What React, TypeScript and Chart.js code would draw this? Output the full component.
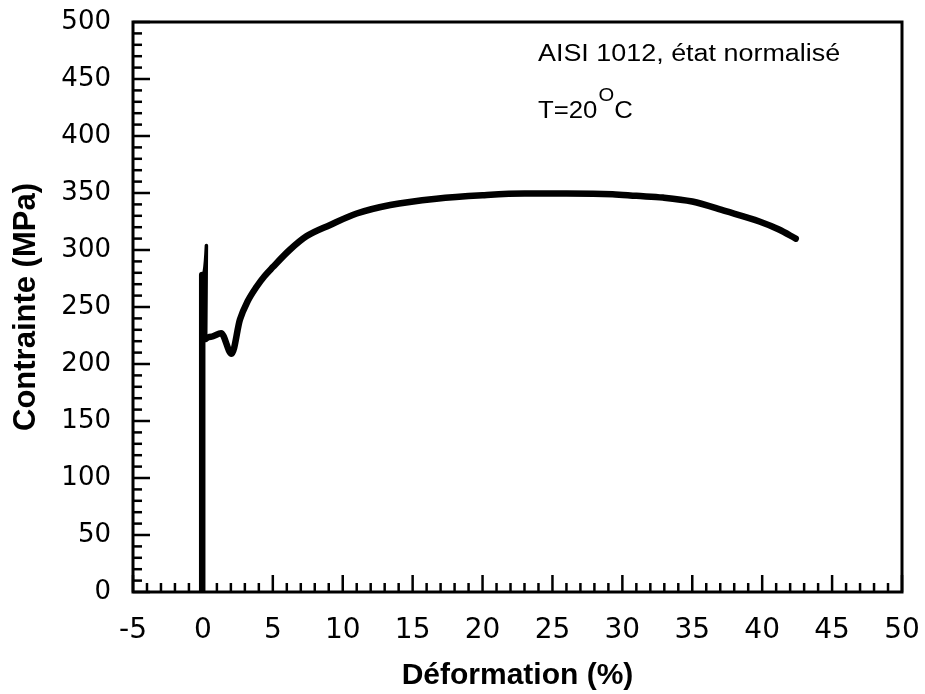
import React, { useEffect, useRef } from "react";
import { Chart, registerables } from "chart.js";

Chart.register(...registerables);

// ---- data ----
const strainPct = [-0.05, -0.05, 0.25, 0.2, 0.6, 1.3, 2.05, 2.65, 3.2, 3.85, 4.4, 5.0, 6.2, 7.4, 9.1, 11.0, 13.4, 16.7, 20.0, 23.0, 26.0, 29.3, 31.0, 32.9, 35.0, 37.4, 39.8, 41.2, 42.4];
const stressMPa = [0, 278, 304, 222, 224, 227, 209, 239, 255, 268, 277, 285, 300, 312, 322, 332, 339.5, 345, 348, 349.5, 349.5, 349, 347.5, 346, 342.5, 334, 325, 318, 310];

const xMin = -5;
const xMax = 50;
const xStep = 5;
const xMinorStep = 1;
const yMin = 0;
const yMax = 500;
const yStep = 50;
const yMinorStep = 10;

const xTitle = "Déformation (%)";
const yTitle = "Contrainte (MPa)";
const noteMaterial = "AISI 1012, état normalisé";
const noteTempPrefix = "T=20";
const noteTempDegree = "O";
const noteTempUnit = "C";

const FONT = "'Liberation Sans', Arial, Helvetica, sans-serif";
const TICK_FONT = "'DejaVu Sans', 'Liberation Sans', Arial, sans-serif";

const frameAndTicks = {
  id: "frameAndTicks",
  afterDraw(chart: any) {
    const { ctx, chartArea } = chart;
    const { left, right, top, bottom } = chartArea;
    const xs = chart.scales.x;
    const ys = chart.scales.y;
    ctx.save();
    ctx.strokeStyle = "#000";
    ctx.lineWidth = 2.5;
    ctx.lineCap = "butt";
    for (let v = xMin; v <= xMax + 1e-9; v += xMinorStep) {
      const px = xs.getPixelForValue(v);
      const len = Math.round(v) % xStep === 0 ? 17 : 9;
      ctx.beginPath();
      ctx.moveTo(px, bottom);
      ctx.lineTo(px, bottom - len);
      ctx.stroke();
    }
    for (let v = yMin; v <= yMax + 1e-9; v += yMinorStep) {
      const py = ys.getPixelForValue(v);
      const len = Math.round(v) % yStep === 0 ? 17 : 9;
      ctx.beginPath();
      ctx.moveTo(left, py);
      ctx.lineTo(left + len, py);
      ctx.stroke();
    }
    ctx.lineWidth = 3;
    ctx.strokeRect(left, top, right - left, bottom - top);
    ctx.restore();
  },
};

const notes = {
  id: "notes",
  afterDraw(chart: any) {
    const { ctx } = chart;
    ctx.save();
    ctx.fillStyle = "#000";
    ctx.textBaseline = "alphabetic";
    ctx.textAlign = "left";
    ctx.font = `23px ${FONT}`;
    ctx.save();
    ctx.translate(538, 61);
    ctx.scale(1.17, 1);
    ctx.fillText(noteMaterial, 0, 0);
    ctx.restore();

    ctx.save();
    ctx.translate(538, 118);
    ctx.scale(1.12, 1);
    ctx.fillText(noteTempPrefix, 0, 0);
    let w = ctx.measureText(noteTempPrefix).width;
    ctx.font = `18px ${FONT}`;
    ctx.fillText(noteTempDegree, w + 1, -17);
    w += ctx.measureText(noteTempDegree).width + 1;
    ctx.font = `23px ${FONT}`;
    ctx.fillText(noteTempUnit, w, 0);
    ctx.restore();
    ctx.restore();
  },
};

export default function App() {
  const canvasRef = useRef<HTMLCanvasElement | null>(null);

  useEffect(() => {
    const canvas = canvasRef.current;
    if (!canvas) return;
    const points = strainPct.map((x, i) => ({ x, y: stressMPa[i] }));
    const chart = new Chart(canvas, {
      type: "line",
      data: {
        datasets: [
          {
            data: points,
            borderColor: "#000",
            backgroundColor: "#000",
            borderWidth: 6.5,
            pointRadius: 0,
            cubicInterpolationMode: "monotone",
            borderJoinStyle: "round",
            borderCapStyle: "round",
            fill: false,
            segment: {
              borderWidth: (c: any) => (c.p0DataIndex === 1 || c.p0DataIndex === 2 ? 3.5 : 6.5),
            },
          } as any,
        ],
      },
      options: {
        animation: false,
        responsive: true,
        maintainAspectRatio: false,
        layout: { padding: { top: 22, right: 23, left: 0, bottom: 0 } },
        plugins: {
          legend: { display: false },
          tooltip: { enabled: false },
        },
        scales: {
          x: {
            type: "linear",
            min: xMin,
            max: xMax,
            afterFit: (s: any) => {
              s.height = 102;
              s.paddingLeft = 0;
              s.paddingRight = 0;
            },
            grid: { display: false, drawTicks: false },
            border: { display: false },
            ticks: {
              stepSize: xStep,
              color: "#000",
              padding: 22,
              maxRotation: 0,
              font: { family: TICK_FONT, size: 28 },
            },
            title: {
              display: true,
              text: xTitle,
              color: "#000",
              font: { family: FONT, size: 30, weight: "bold" },
              padding: { top: 0, bottom: 0 },
            },
          },
          y: {
            type: "linear",
            min: yMin,
            max: yMax,
            afterFit: (s: any) => {
              s.width = 133;
              s.paddingTop = 0;
              s.paddingBottom = 0;
            },
            grid: { display: false, drawTicks: false },
            border: { display: false },
            ticks: {
              stepSize: yStep,
              color: "#000",
              padding: 22,
              font: { family: TICK_FONT, size: 26 },
            },
            title: {
              display: true,
              text: yTitle,
              color: "#000",
              font: { family: FONT, size: 31, weight: "bold" },
              padding: { top: 8, bottom: 0 },
            },
          },
        },
      },
      plugins: [frameAndTicks, notes],
    });
    return () => chart.destroy();
  }, []);

  return (
    <div style={{ position: "fixed", left: 0, top: 0, width: 925, height: 694, background: "#fff" }}>
      <canvas ref={canvasRef} />
    </div>
  );
}
